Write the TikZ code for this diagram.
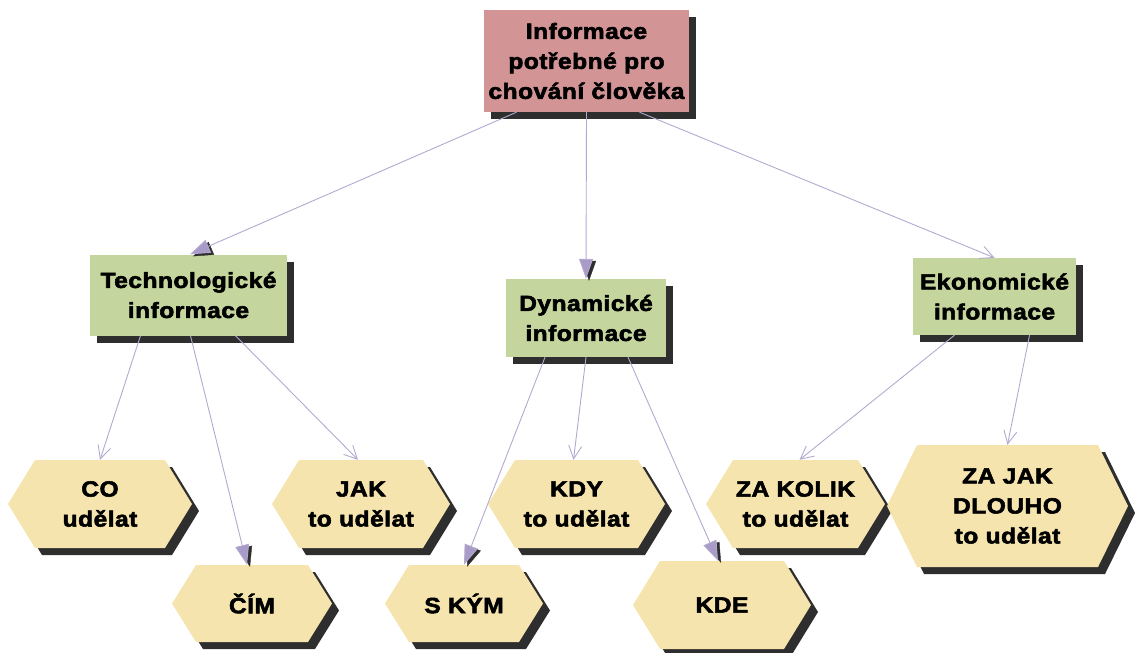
\documentclass[tikz,border=0pt]{standalone}
\usepackage{fontspec}
\newfontfamily\dfont{Liberation Sans Bold}[FakeBold=2.5,FakeStretch=1.12,LetterSpace=2]
\usetikzlibrary{arrows.meta,shadows,calc}
\definecolor{topc}{HTML}{D39496}
\definecolor{greenc}{HTML}{C4D69D}
\definecolor{hexc}{HTML}{F5E4AD}
\definecolor{linec}{HTML}{B3A9D0}
\definecolor{headc}{HTML}{A99BC8}
\definecolor{shadowc}{HTML}{2E2E2E}

% hexagon: name, x1, x2, y1, y2, corner inset, text
\newcommand\hexa[7]{%
  \fill[hexc, dshadow] (#2,{(#4+#5)/2}) -- ({#2+#6},#4) -- ({#3-#6},#4)
    -- (#3,{(#4+#5)/2}) -- ({#3-#6},#5) -- ({#2+#6},#5) -- cycle;
  \node[label, minimum width={#3-#2}, minimum height={#5-#4}]
    (#1) at ({(#2+#3)/2},{(#4+#5)/2}) {#7};}

% connector with filled head and its shadow
\newcommand\fconn[2]{%
  \draw[shadowc, -{Triangle[length=20pt,width=14pt]},
    transform canvas={shift={(3pt,-2pt)}}] ($(#2)!20pt!(#1)$) -- (#2);
  \draw[conn, -{Triangle[length=20pt,width=14pt,fill=headc]}] (#1) -- (#2);}
% connector with open head
\newcommand\oconn[2]{%
  \draw[conn, -{Straight Barb[length=13pt,width=13pt]}] (#1) -- (#2);}

\begin{document}
\begin{tikzpicture}[x=1pt,y=-1pt,
  dshadow/.style={drop shadow={shadow xshift=7pt,shadow yshift=-7pt,
    fill=shadowc,opacity=1}},
  label/.style={inner sep=0pt, align=center,
    font=\dfont\fontsize{22}{30}\selectfont},
  box/.style={label, dshadow},
  conn/.style={draw=linec, line width=0.9pt}]
\useasboundingbox (0,0) rectangle (1135,653);

% rectangular boxes
\node[box, fill=topc, minimum width=205, minimum height=102]
  (top) at (586.5,61) {Informace\\potřebné pro\\chování člověka};
\node[box, fill=greenc, minimum width=197, minimum height=81]
  (tech) at (188.5,295) {Technologické\\informace};
\node[box, fill=greenc, minimum width=160, minimum height=78]
  (dyn) at (586,318) {Dynamické\\informace};
\node[box, fill=greenc, minimum width=163, minimum height=77]
  (eko) at (994.5,296.5) {Ekonomické\\informace};

% hexagons
\hexa{co}{8}{192}{460}{548}{27}{CO\\udělat}
\hexa{jak}{272}{450}{460}{548}{27}{JAK\\to udělat}
\hexa{kdy}{488}{665}{460}{548}{27}{KDY\\to udělat}
\hexa{kolik}{706}{885}{460}{548}{27}{ZA KOLIK\\to udělat}
\hexa{dlouho}{887}{1128}{445}{567}{30}{ZA JAK\\DLOUHO\\to udělat}
\hexa{cim}{172}{332}{565}{642}{24}{ČÍM}
\hexa{skym}{385}{543}{565}{642}{24}{S KÝM}
\hexa{kde}{633}{811}{561}{649}{27}{KDE}

% connectors
\fconn{[xshift=-70pt]top.south}{[xshift=1.5pt]tech.north}
\fconn{top.south}{dyn.north}
\oconn{[xshift=53pt]top.south}{eko.north}

\oconn{[xshift=-48pt]tech.south}{co.north}
\fconn{[xshift=2pt]tech.south}{[xshift=-5pt]cim.north}
\oconn{[xshift=47pt]tech.south}{[xshift=-3pt]jak.north}

\fconn{[xshift=-41pt]dyn.south}{skym.north}
\oconn{dyn.south}{[xshift=-3pt]kdy.north}
\fconn{[xshift=42pt]dyn.south}{[xshift=-4pt]kde.north}

\oconn{[xshift=-40pt]eko.south}{[xshift=4pt]kolik.north}
\oconn{[xshift=35pt]eko.south}{dlouho.north}
\end{tikzpicture}
\end{document}
